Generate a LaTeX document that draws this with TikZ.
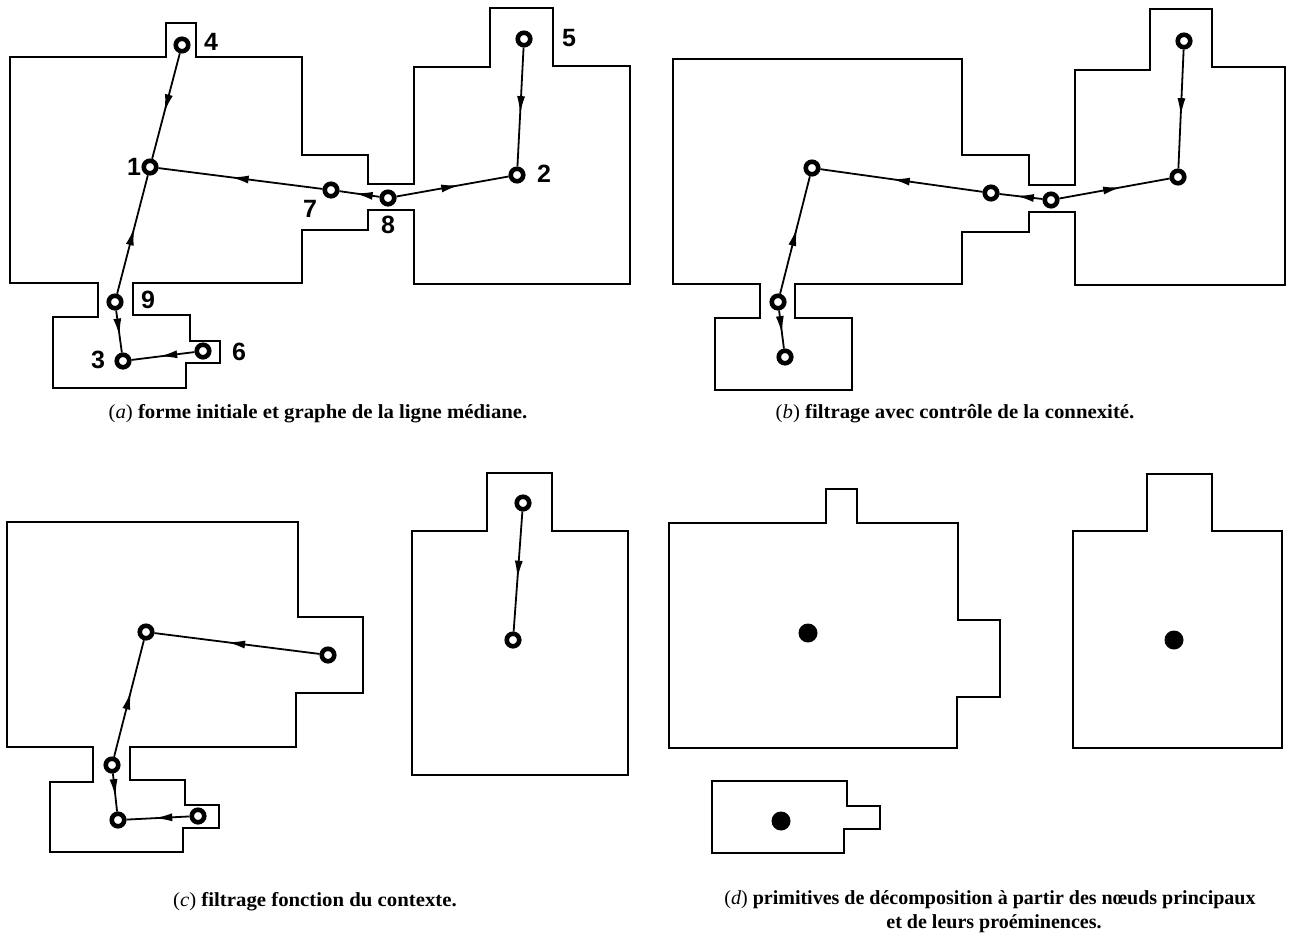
\documentclass[tikz,border=0pt]{standalone}
\usepackage{fontspec}
\setmainfont{Liberation Serif}
\newfontfamily\labelfont{Liberation Sans}
\usetikzlibrary{arrows.meta,decorations.markings}
\begin{document}
\begin{tikzpicture}[x=1pt,y=-1pt,
  outline/.style={draw=black,line width=1.8pt,line join=miter},
  vtx/.style={circle,draw=black,fill=white,line width=4.6pt,minimum size=12.5pt,inner sep=0pt},
  dot/.style={circle,fill=black,minimum size=19pt,inner sep=0pt},
  edge/.style={line width=1.8pt},
  midarrow/.style={edge,postaction={decorate},decoration={markings,mark=at position #1 with {\arrow{Latex[length=18pt,width=8pt]}}}},
  midarrow/.default=0.56,
  num/.style={font=\labelfont\bfseries\fontsize{25}{25}\selectfont,inner sep=0pt},
  captxt/.style={font=\bfseries\fontsize{20}{21}\selectfont,inner sep=0pt}
]
\useasboundingbox (0,0) rectangle (1292,935);

% ---------- (a) ----------
\draw[outline] (166,23) -- (196,23) -- (196,57) -- (302,57) -- (302,155) -- (368,155) -- (368,184) -- (414,184) -- (414,67) -- (490,67) -- (490,8) -- (553,8) -- (553,66) -- (630,66) -- (630,284) -- (414,284) -- (414,210) -- (368,210) -- (368,230) -- (302,230) -- (302,283) -- (133,283) -- (133,315) -- (190,315) -- (190,341) -- (220,341) -- (220,363) -- (186,363) -- (186,388) -- (53,388) -- (53,317) -- (98,317) -- (98,283) -- (10,283) -- (10,57) -- (166,57) -- cycle;
\node[vtx] (a4) at (182,45) {};
\node[vtx] (a1) at (150,167) {};
\node[vtx] (a7) at (331,190) {};
\node[vtx] (a8) at (388,198) {};
\node[vtx] (a2) at (517,175) {};
\node[vtx] (a5) at (524,39) {};
\node[vtx] (a9) at (115,302) {};
\node[vtx] (a3) at (123,361) {};
\node[vtx] (a6) at (203,351) {};
\draw[midarrow] (a4) -- (a1);
\draw[midarrow] (a9) -- (a1);
\draw[midarrow=0.62] (a9) -- (a3);
\draw[midarrow] (a6) -- (a3);
\draw[midarrow] (a7) -- (a1);
\draw[midarrow=0.62] (a8) -- (a7);
\draw[midarrow] (a8) -- (a2);
\draw[midarrow] (a5) -- (a2);
\node[num] (l4) at (211,42) {4};
\node[num] (l1) at (134,167) {1};
\node[num] (l7) at (310,209) {7};
\node[num] (l8) at (388,225) {8};
\node[num] (l2) at (544,174) {2};
\node[num] (l5) at (569,38) {5};
\node[num] (l9) at (148,300) {9};
\node[num] (l3) at (98,360) {3};
\node[num] (l6) at (239,352) {6};
\node[captxt] (capa) at (318,414) {\scalebox{1.04}[1]{{\mdseries(\textit{a})} forme initiale et graphe de la ligne médiane.}};

% ---------- (b) ----------
\draw[outline] (673,59) -- (962,59) -- (962,155) -- (1029,155) -- (1029,185) -- (1075,185) -- (1075,70) -- (1150,70) -- (1150,9) -- (1212,9) -- (1212,67) -- (1285,67) -- (1285,285) -- (1075,285) -- (1075,212) -- (1029,212) -- (1029,232) -- (962,232) -- (962,284) -- (795,284) -- (795,318) -- (852,318) -- (852,390) -- (715,390) -- (715,318) -- (760,318) -- (760,284) -- (673,284) -- cycle;
\node[vtx] (b1) at (812,168) {};
\node[vtx] (b9) at (778,302) {};
\node[vtx] (b3) at (785,357) {};
\node[vtx] (b7) at (991,193) {};
\node[vtx] (b8) at (1051,200) {};
\node[vtx] (b2) at (1178,177) {};
\node[vtx] (b5) at (1184,41) {};
\draw[midarrow] (b9) -- (b1);
\draw[midarrow=0.62] (b9) -- (b3);
\draw[midarrow] (b7) -- (b1);
\draw[midarrow=0.62] (b8) -- (b7);
\draw[midarrow] (b8) -- (b2);
\draw[midarrow] (b5) -- (b2);
\node[captxt] (capb) at (955,414) {\scalebox{1.04}[1]{{\mdseries(\textit{b})} filtrage avec contrôle de la connexité.}};

% ---------- (c) ----------
\draw[outline] (7,522) -- (298,522) -- (298,617) -- (363,617) -- (363,693) -- (296,693) -- (296,747) -- (130,747) -- (130,780) -- (185,780) -- (185,805) -- (219,805) -- (219,828) -- (183,828) -- (183,852) -- (50,852) -- (50,782) -- (93,782) -- (93,747) -- (7,747) -- cycle;
\draw[outline] (412,531) -- (487,531) -- (487,473) -- (552,473) -- (552,531) -- (628,531) -- (628,775) -- (412,775) -- cycle;
\node[vtx] (c1) at (146,632) {};
\node[vtx] (c7) at (328,655) {};
\node[vtx] (c9) at (112,765) {};
\node[vtx] (c3) at (118,820) {};
\node[vtx] (c6) at (198,816) {};
\node[vtx] (c5) at (523,503) {};
\node[vtx] (c2) at (513,640) {};
\draw[midarrow] (c7) -- (c1);
\draw[midarrow] (c9) -- (c1);
\draw[midarrow=0.62] (c9) -- (c3);
\draw[midarrow] (c6) -- (c3);
\draw[midarrow] (c5) -- (c2);
\node[captxt] (capc) at (315,902) {\scalebox{1.04}[1]{{\mdseries(\textit{c})} filtrage fonction du contexte.}};

% ---------- (d) ----------
\draw[outline] (669,523) -- (826,523) -- (826,489) -- (857,489) -- (857,523) -- (958,523) -- (958,620) -- (1000,620) -- (1000,697) -- (957,697) -- (957,748) -- (669,748) -- cycle;
\draw[outline] (712,781) -- (847,781) -- (847,806) -- (880,806) -- (880,829) -- (844,829) -- (844,853) -- (712,853) -- cycle;
\draw[outline] (1073,531) -- (1147,531) -- (1147,474) -- (1212,474) -- (1212,531) -- (1282,531) -- (1282,748) -- (1073,748) -- cycle;
\node[dot] (d1) at (808,633) {};
\node[dot] (d2) at (781,821) {};
\node[dot] (d3) at (1174,640) {};
\node[captxt] (capd1) at (990,900) {{\mdseries(\textit{d})} primitives de décomposition à partir des nœuds principaux};
\node[captxt] (capd2) at (994,924) {et de leurs proéminences.};
\end{tikzpicture}
\end{document}
